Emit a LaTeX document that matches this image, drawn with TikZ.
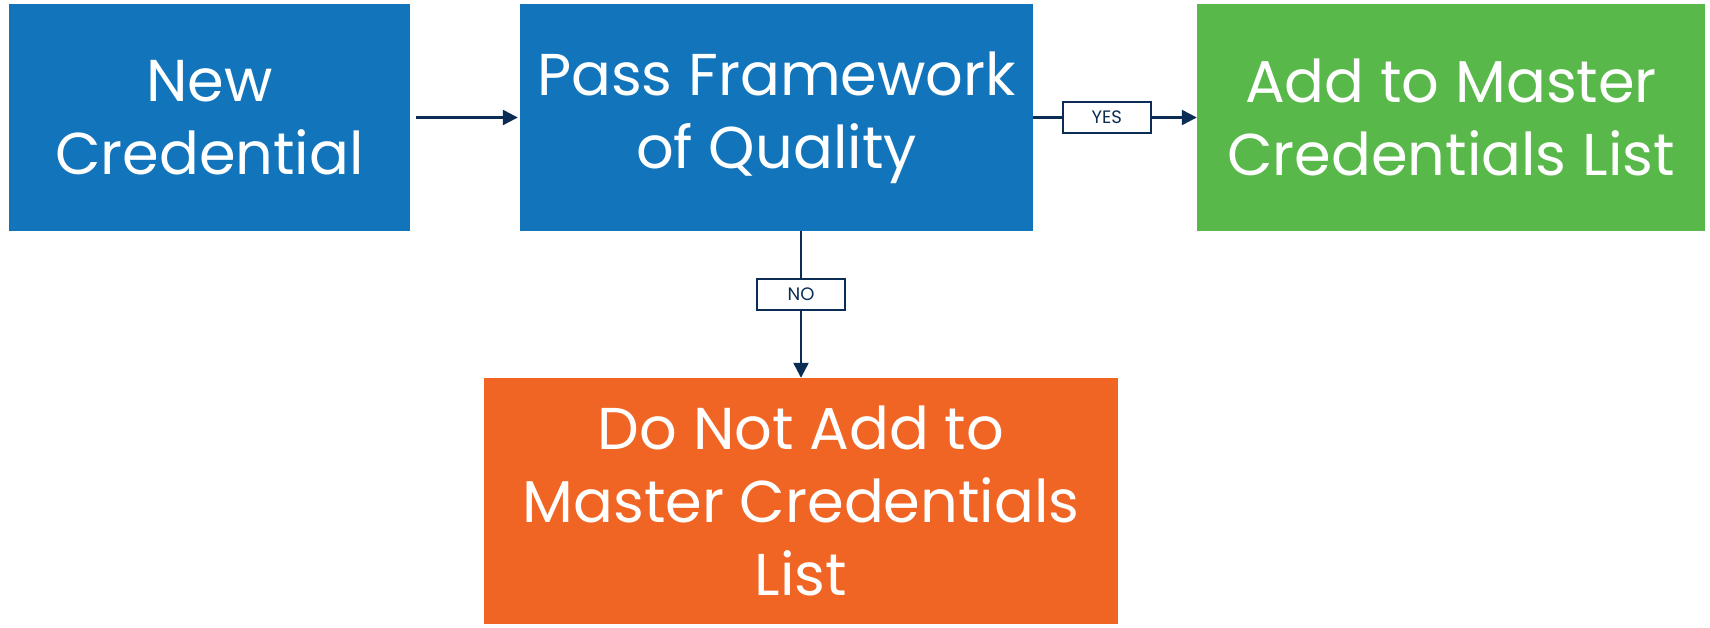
\documentclass[tikz,border=0pt]{standalone}
\usepackage{fontspec}
\setmainfont{Poppins}
\usetikzlibrary{arrows.meta}
\definecolor{boxblue}{HTML}{1275BC}
\definecolor{boxgreen}{HTML}{59B84A}
\definecolor{boxorange}{HTML}{F06424}
\definecolor{navy}{HTML}{0B2D55}
\tikzset{
  stage/.style={rectangle, draw=none, text=white, align=center,
    font=\fontsize{59}{73}\selectfont, inner sep=0pt, minimum height=227pt},
  link/.style={draw=navy, line width=2.4pt, -{Triangle[length=15pt,width=15pt]}},
  tag/.style={rectangle, draw=navy, line width=2pt, fill=white, text=navy,
    font=\fontsize{18}{20}\selectfont, minimum width=88pt, minimum height=31pt, inner sep=0pt}
}
\begin{document}
\begin{tikzpicture}[x=1pt,y=1pt]
\useasboundingbox (0,0) rectangle (1710,-627);
\node[stage, fill=boxblue, minimum width=401pt] (new) at (209.5,-117.5) {New\\Credential};
\node[stage, fill=boxblue, minimum width=513pt] (pass) at (776.5,-117.5) {Pass Framework\\of Quality};
\node[stage, fill=boxgreen, minimum width=508pt] (add) at (1451,-117.5) {Add to Master\\Credentials List};
\node[stage, fill=boxorange, minimum width=634pt, minimum height=246pt] (not) at (801,-501) {Do Not Add to\\Master Credentials\\List};
\draw[link, shorten <=6pt, shorten >=2pt] (new) -- (pass);
\draw[link] (pass) -- node[tag, pos=0.45] (yes) {YES} (add);
\draw[link] (pass.south -| not.north) -- node[tag, pos=0.43] (no) {NO} (not.north);
\end{tikzpicture}
\end{document}
